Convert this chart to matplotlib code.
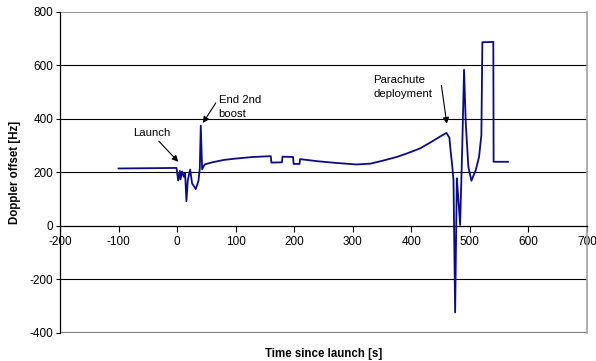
import numpy as np
import matplotlib.pyplot as plt

plt.rcParams['font.family'] = ['Liberation Sans', 'DejaVu Sans']
plt.rcParams['axes.unicode_minus'] = False

# time since launch [s] and Doppler offset [Hz]
t = [-100, -50, -1, 1.8, 4.6, 5.7, 8.5, 11.4, 13.6, 15.9, 18.2, 22.2, 25.6, 31.8,
     36.4, 38.7, 40.4, 42.7, 47, 60, 80, 100, 130, 160, 161, 179, 180, 198, 199,
     209, 210, 240, 270, 306, 330, 351, 375, 391, 415, 437, 452, 460, 465, 467,
     470, 472, 474.8, 477.7, 480, 483.3, 487, 490, 493, 497.4, 502.6, 510, 515.6,
     519.6, 521.3, 540, 540.5, 565]
doppler = [215, 216, 217, 170, 206, 174, 204, 184, 198, 93, 171, 211, 159, 138,
           168, 215, 375, 212, 230, 238, 247, 252, 258, 261, 237, 238, 259, 258, 232,
           232, 250, 242, 236, 230, 233, 244, 258, 270, 290, 318, 338, 348, 330, 283,
           221, 171, -323, 178, 110, 4, 300, 584, 382, 221, 169, 209, 258,
           339, 687, 688, 240, 240]

xticks = [-200, -100, 0, 100, 200, 300, 400, 500, 600, 700]
yticks = [-400, -200, 0, 200, 400, 600, 800]

fig = plt.figure(figsize=(5.96, 3.61), dpi=100)
ax = fig.add_axes([0.1007, 0.0776, 0.8842, 0.8892])

for y in [200, 400, 600, -200]:
    ax.axhline(y, color='black', lw=0.8, zorder=1)
ax.axhline(800, color='#808080', lw=1.2, zorder=1)
ax.axhline(-400, color='#808080', lw=1.6, zorder=1)

ax.plot(t, doppler, color='#0a0a8c', lw=1.3, zorder=3)

ax.set_xlim(-200, 700)
ax.set_ylim(-400, 800)
ax.set_xticks(xticks)
ax.set_yticks(yticks)
ax.tick_params(labelsize=8.5, length=3, width=0.8, color='black', pad=2)
ax.tick_params(axis='x', length=4, pad=3)

ax.spines['bottom'].set_position(('data', 0))
ax.spines['bottom'].set_linewidth(0.9)
ax.spines['left'].set_linewidth(0.9)
ax.spines['top'].set_visible(False)
ax.spines['right'].set_color('#a0a0a0')
ax.spines['right'].set_linewidth(1.2)

ax.set_ylabel('Doppler offset [Hz]', fontsize=8.3, fontweight='bold', labelpad=6)
fig.text(0.5428, 0.02, 'Time since launch [s]', fontsize=8.3, fontweight='bold',
         ha='center', va='center')

arrow = dict(arrowstyle='-|>', color='black', lw=0.8, mutation_scale=9,
             shrinkA=0, shrinkB=0)
ax.annotate('Launch', xy=(2, 240), xytext=(-12, 346), fontsize=8.2,
            ha='right', va='center', arrowprops=arrow)
ax.annotate('End 2nd\nboost', xy=(44, 385), xytext=(71, 443), fontsize=8.2,
            ha='left', va='center', linespacing=1.5)
ax.annotate('', xy=(44, 385), xytext=(66, 460), arrowprops=arrow)
ax.annotate('Parachute\ndeployment', xy=(460, 382), xytext=(335, 518), fontsize=8.2,
            ha='left', va='center', linespacing=1.5)
ax.annotate('', xy=(460.6, 382), xytext=(451.4, 525), arrowprops=arrow)

fig.savefig('out.png', dpi=100)
